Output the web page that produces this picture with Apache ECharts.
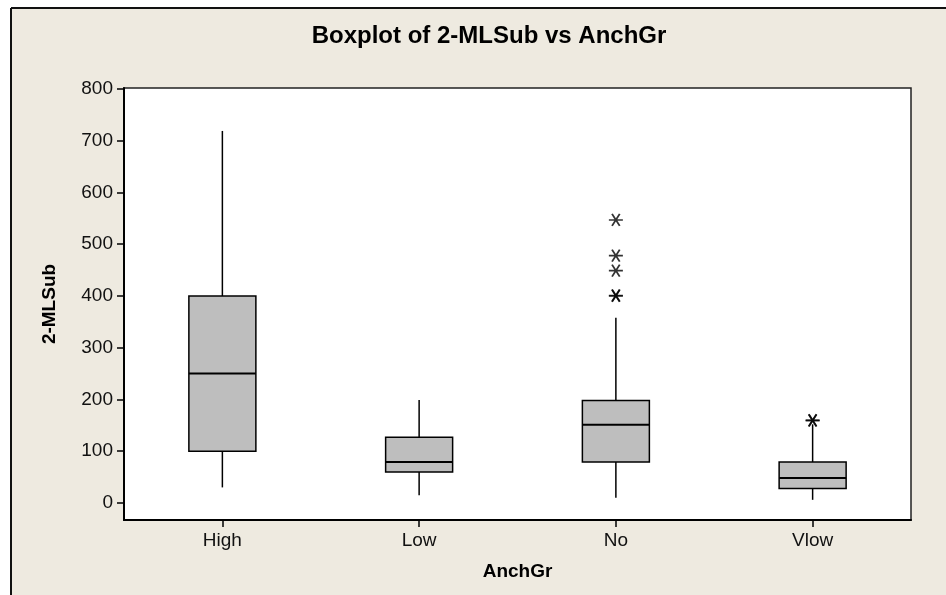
<!DOCTYPE html>
<html>
<head>
<meta charset="utf-8">
<script src="https://cdn.jsdelivr.net/npm/echarts@6/dist/echarts.min.js"></script>
<style>html,body{margin:0;padding:0;background:#fff}#c{width:946px;height:595px}</style>
</head>
<body>
<div id="c"></div>
<script>
// Data
var categories = ['High', 'Low', 'No', 'Vlow'];
// [lowerWhisker, Q1, median, Q3, upperWhisker]
var boxValues = [
  [30, 100, 250, 400, 719],
  [15, 60, 79, 127, 199],
  [10, 79, 151, 198, 358],
  [6, 28, 48, 79, 152]
];
var outlierCats = ['No', 'No', 'No', 'No', 'No', 'Vlow', 'Vlow'];
var outlierValues = [547, 478, 449, 400, 401, 159, 160];
var yTickLabels = [0, 100, 200, 300, 400, 500, 600, 700, 800];

var chart = echarts.init(document.getElementById('c'), null, {renderer: 'canvas'});
var font = '"Liberation Sans", Arial, sans-serif';
var asterisk = 'path://M-10,0 L10,0 M-5.5,-8.3 L5.5,8.3 M-5.5,8.3 L5.5,-8.3 M-10,0 Z';

var boxData = boxValues.map(function (v, i) { return [i].concat(v); });
var outlierData = outlierCats.map(function (c, i) { return [c, outlierValues[i]]; });

function renderBox(params, api) {
  var idx = api.value(0);
  var lo = api.coord([idx, api.value(1)]);
  var q1 = api.coord([idx, api.value(2)]);
  var med = api.coord([idx, api.value(3)]);
  var q3 = api.coord([idx, api.value(4)]);
  var hi = api.coord([idx, api.value(5)]);
  var half = 33.5;
  var x = lo[0];
  var stroke = {stroke: '#000', lineWidth: 1.5};
  return {
    type: 'group',
    children: [
      {type: 'line', shape: {x1: x, y1: q3[1], x2: x, y2: hi[1]}, style: stroke},
      {type: 'line', shape: {x1: x, y1: q1[1], x2: x, y2: lo[1]}, style: stroke},
      {type: 'rect', shape: {x: x - half, y: q3[1], width: half * 2, height: q1[1] - q3[1]},
        style: {fill: '#BEBEBE', stroke: '#000', lineWidth: 1.5}},
      {type: 'line', shape: {x1: x - half, y1: med[1], x2: x + half, y2: med[1]}, style: {stroke: '#000', lineWidth: 2}}
    ]
  };
}

chart.setOption({
  backgroundColor: '#ffffff',
  animation: false,
  graphic: [
    {type: 'rect', z: -10, silent: true, shape: {x: 11, y: 8, width: 935, height: 587}, style: {fill: '#EEEAE0'}},
    {type: 'line', z: -9, silent: true, shape: {x1: 11, y1: 8, x2: 946, y2: 8}, style: {stroke: '#111', lineWidth: 2}},
    {type: 'line', z: -9, silent: true, shape: {x1: 11, y1: 8, x2: 11, y2: 595}, style: {stroke: '#111', lineWidth: 2}}
  ],
  title: {
    text: 'Boxplot of 2-MLSub vs AnchGr',
    left: 484,
    textAlign: 'center',
    top: 19,
    textStyle: {fontFamily: font, fontSize: 24, fontWeight: 'bold', color: '#000'}
  },
  grid: {
    left: 124, right: 35, top: 88, bottom: 75,
    show: true, backgroundColor: '#ffffff', borderColor: '#222', borderWidth: 1.5
  },
  xAxis: {
    type: 'category',
    data: categories,
    boundaryGap: true,
    name: 'AnchGr',
    nameLocation: 'middle',
    nameGap: 42,
    nameTextStyle: {fontFamily: font, fontSize: 19, fontWeight: 'bold', color: '#000'},
    axisLine: {show: true, onZero: false, lineStyle: {color: '#000', width: 2}},
    axisTick: {show: true, alignWithLabel: true, length: 7, lineStyle: {color: '#000', width: 1.5}},
    axisLabel: {fontFamily: font, fontSize: 19, color: '#111', margin: 11},
    splitLine: {show: false}
  },
  yAxis: {
    type: 'value',
    min: -33,
    max: 802,
    name: '2-MLSub',
    nameLocation: 'middle',
    nameGap: 65,
    nameRotate: 90,
    nameTextStyle: {fontFamily: font, fontSize: 19, fontWeight: 'bold', color: '#000'},
    axisLine: {show: true, onZero: false, lineStyle: {color: '#000', width: 2}},
    axisTick: {show: true, length: 7, lineStyle: {color: '#000', width: 1.5}, customValues: yTickLabels},
    axisLabel: {fontFamily: font, fontSize: 19, color: '#111', margin: 11, customValues: yTickLabels},
    splitLine: {show: false}
  },
  series: [
    {
      type: 'custom',
      data: boxData,
      renderItem: renderBox,
      encode: {x: 0, y: [1, 2, 3, 4, 5]},
      silent: true
    },
    {
      type: 'scatter',
      data: outlierData,
      symbol: asterisk,
      symbolSize: [14, 12],
      itemStyle: {color: 'rgba(0,0,0,0)', borderColor: '#000', borderWidth: 1.7},
      emphasis: {disabled: true}
    }
  ]
});
</script>
</body>
</html>
